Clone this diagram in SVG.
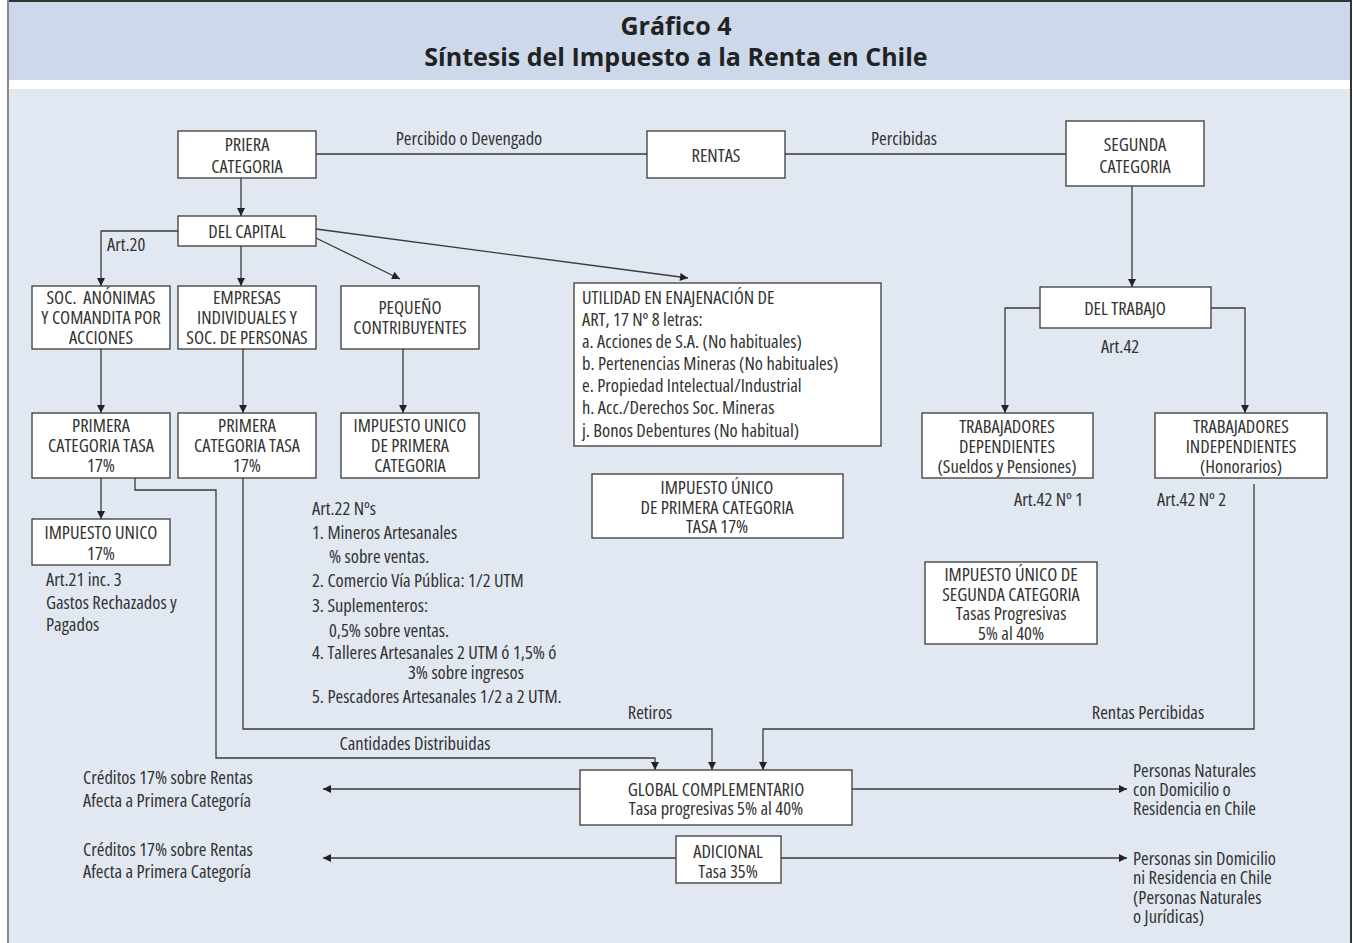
<svg xmlns="http://www.w3.org/2000/svg" width="1353" height="943" viewBox="0 0 1353 943">
<defs>
<style>
.box{fill:#fff;stroke:#3a3a3a;stroke-width:1.3}
.t{font-family:"Open Sans","Noto Sans",sans-serif;font-size:18.5px;fill:#333;font-stretch:condensed}
.c{text-anchor:middle}
.ln{fill:none;stroke:#3a3a3a;stroke-width:1.3}
.ttl{font-family:"Open Sans","Noto Sans",sans-serif;font-weight:bold;font-size:25px;fill:#222;text-anchor:middle}
</style>
<marker id="a" viewBox="0 0 10 10" refX="10" refY="5" markerWidth="9" markerHeight="8" markerUnits="userSpaceOnUse" orient="auto"><path d="M0,0L10,5L0,10z" fill="#222"/></marker>
</defs>
<rect width="1353" height="943" fill="#fff"/>
<rect x="8" y="0" width="1343" height="80" fill="#cdd9ea"/>
<rect x="8" y="89" width="1343" height="854" fill="#e1e8f2"/>
<line x1="8" y1="1" x2="1351" y2="1" stroke="#333" stroke-width="2"/>
<line x1="8" y1="0" x2="8" y2="943" stroke="#8a8a8a" stroke-width="2"/>
<line x1="1351" y1="0" x2="1351" y2="943" stroke="#333" stroke-width="2"/>
<text class="ttl" x="676" y="35">Gráfico 4</text>
<text class="ttl" x="676" y="66">Síntesis del Impuesto a la Renta en Chile</text>

<g id="connectors" class="ln">
<path d="M316,154H647"/>
<path d="M785,154H1066"/>
<path d="M241,178V216" marker-end="url(#a)"/>
<path d="M178,231H101V286" marker-end="url(#a)"/>
<path d="M241,246V286" marker-end="url(#a)"/>
<path d="M316,238L400,279" marker-end="url(#a)"/>
<path d="M316,229L688,278" marker-end="url(#a)"/>
<path d="M101,349V413" marker-end="url(#a)"/>
<path d="M243,349V413" marker-end="url(#a)"/>
<path d="M403,349V413" marker-end="url(#a)"/>
<path d="M101,478V519" marker-end="url(#a)"/>
<path d="M135,478V490H216V758H655V770" marker-end="url(#a)"/>
<path d="M243,478V729H712V770" marker-end="url(#a)"/>
<path d="M1254,484V729H763V770" marker-end="url(#a)"/>
<path d="M1132,186V287" marker-end="url(#a)"/>
<path d="M1040,308H1005V413" marker-end="url(#a)"/>
<path d="M1211,308H1245V413" marker-end="url(#a)"/>
<path d="M580,789H323" marker-end="url(#a)"/>
<path d="M852,789H1127" marker-end="url(#a)"/>
<path d="M676,858H323" marker-end="url(#a)"/>
<path d="M781,858H1127" marker-end="url(#a)"/>
</g>

<g id="n-priera"><rect class="box" x="178" y="131" width="138" height="47"/>
<text class="t c" x="247" y="151">PRIERA</text><text class="t c" x="247" y="173">CATEGORIA</text></g>
<g id="n-rentas"><rect class="box" x="647" y="131" width="138" height="47"/>
<text class="t c" x="716" y="162">RENTAS</text></g>
<g id="n-segunda"><rect class="box" x="1066" y="121" width="138" height="65"/>
<text class="t c" x="1135" y="151">SEGUNDA</text><text class="t c" x="1135" y="173">CATEGORIA</text></g>
<g id="n-capital"><rect class="box" x="178" y="216" width="138" height="30"/>
<text class="t c" x="247" y="238">DEL CAPITAL</text></g>
<g id="n-soc"><rect class="box" x="32" y="286" width="138" height="63"/>
<text class="t c" x="101" y="304">SOC.&#160; ANÓNIMAS</text><text class="t c" x="101" y="324">Y COMANDITA POR</text><text class="t c" x="101" y="344">ACCIONES</text></g>
<g id="n-empresas"><rect class="box" x="178" y="286" width="138" height="63"/>
<text class="t c" x="247" y="304">EMPRESAS</text><text class="t c" x="247" y="324">INDIVIDUALES Y</text><text class="t c" x="247" y="344">SOC. DE PERSONAS</text></g>
<g id="n-pequeno"><rect class="box" x="341" y="286" width="138" height="63"/>
<text class="t c" x="410" y="314">PEQUEÑO</text><text class="t c" x="410" y="334">CONTRIBUYENTES</text></g>
<g id="n-utilidad"><rect class="box" x="574" y="283" width="307" height="163"/>
<text class="t" x="582" y="304">UTILIDAD EN ENAJENACIÓN DE</text>
<text class="t" x="582" y="326">ART, 17 Nº 8 letras:</text>
<text class="t" x="582" y="348">a. Acciones de S.A. (No habituales)</text>
<text class="t" x="582" y="370">b. Pertenencias Mineras (No habituales)</text>
<text class="t" x="582" y="392">e. Propiedad Intelectual/Industrial</text>
<text class="t" x="582" y="414">h. Acc./Derechos Soc. Mineras</text>
<text class="t" x="582" y="437">j. Bonos Debentures (No habitual)</text></g>
<g id="n-primera1"><rect class="box" x="32" y="413" width="138" height="65"/>
<text class="t c" x="101" y="432">PRIMERA</text><text class="t c" x="101" y="452">CATEGORIA TASA</text><text class="t c" x="101" y="472">17%</text></g>
<g id="n-primera2"><rect class="box" x="178" y="413" width="138" height="65"/>
<text class="t c" x="247" y="432">PRIMERA</text><text class="t c" x="247" y="452">CATEGORIA TASA</text><text class="t c" x="247" y="472">17%</text></g>
<g id="n-unico-primera"><rect class="box" x="341" y="413" width="138" height="65"/>
<text class="t c" x="410" y="432">IMPUESTO UNICO</text><text class="t c" x="410" y="452">DE PRIMERA</text><text class="t c" x="410" y="472">CATEGORIA</text></g>
<g id="n-unico-tasa"><rect class="box" x="592" y="474" width="251" height="64"/>
<text class="t c" x="717" y="494">IMPUESTO ÚNICO</text><text class="t c" x="717" y="514">DE PRIMERA CATEGORIA</text><text class="t c" x="717" y="533">TASA 17%</text></g>
<g id="n-trabajo"><rect class="box" x="1040" y="287" width="171" height="41"/>
<text class="t c" x="1125" y="315">DEL TRABAJO</text></g>
<g id="n-dep"><rect class="box" x="922" y="413" width="171" height="65"/>
<text class="t c" x="1007" y="433">TRABAJADORES</text><text class="t c" x="1007" y="453">DEPENDIENTES</text><text class="t c" x="1007" y="473">(Sueldos y Pensiones)</text></g>
<g id="n-indep"><rect class="box" x="1155" y="413" width="172" height="65"/>
<text class="t c" x="1241" y="433">TRABAJADORES</text><text class="t c" x="1241" y="453">INDEPENDIENTES</text><text class="t c" x="1241" y="473">(Honorarios)</text></g>
<g id="n-unico17"><rect class="box" x="32" y="519" width="138" height="46"/>
<text class="t c" x="101" y="539">IMPUESTO UNICO</text><text class="t c" x="101" y="560">17%</text></g>
<g id="n-unico-segunda"><rect class="box" x="925" y="562" width="172" height="82"/>
<text class="t c" x="1011" y="581">IMPUESTO ÚNICO DE</text><text class="t c" x="1011" y="601">SEGUNDA CATEGORIA</text><text class="t c" x="1011" y="620">Tasas Progresivas</text><text class="t c" x="1011" y="640">5% al 40%</text></g>
<g id="n-global"><rect class="box" x="580" y="770" width="272" height="55"/>
<text class="t c" x="716" y="796">GLOBAL COMPLEMENTARIO</text><text class="t c" x="716" y="815">Tasa progresivas 5% al 40%</text></g>
<g id="n-adicional"><rect class="box" x="676" y="836" width="105" height="47"/>
<text class="t c" x="728" y="858">ADICIONAL</text><text class="t c" x="728" y="878">Tasa 35%</text></g>

<g id="labels">
<text class="t c" x="469" y="145">Percibido o Devengado</text>
<text class="t c" x="904" y="145">Percibidas</text>
<text class="t" x="107" y="251">Art.20</text>
<text class="t c" x="1120" y="353">Art.42</text>
<text class="t" x="1014" y="506">Art.42 Nº 1</text>
<text class="t" x="1157" y="506">Art.42 Nº 2</text>
<text class="t" x="46" y="586">Art.21 inc. 3</text>
<text class="t" x="46" y="609">Gastos Rechazados y</text>
<text class="t" x="46" y="631">Pagados</text>
<text class="t" x="312" y="515">Art.22 Nºs</text>
<text class="t" x="312" y="539">1. Mineros Artesanales</text>
<text class="t" x="329" y="563">% sobre ventas.</text>
<text class="t" x="312" y="587">2. Comercio Vía Pública: 1/2 UTM</text>
<text class="t" x="312" y="612">3. Suplementeros:</text>
<text class="t" x="329" y="637">0,5% sobre ventas.</text>
<text class="t" x="312" y="659">4. Talleres Artesanales 2 UTM ó 1,5% ó</text>
<text class="t" x="408" y="679">3% sobre ingresos</text>
<text class="t" x="312" y="703">5. Pescadores Artesanales 1/2 a 2 UTM.</text>
<text class="t c" x="650" y="719">Retiros</text>
<text class="t c" x="1148" y="719">Rentas Percibidas</text>
<text class="t c" x="415" y="750">Cantidades Distribuidas</text>
<text class="t" x="83" y="784">Créditos 17% sobre Rentas</text>
<text class="t" x="83" y="807">Afecta a Primera Categoría</text>
<text class="t" x="83" y="856">Créditos 17% sobre Rentas</text>
<text class="t" x="83" y="878">Afecta a Primera Categoría</text>
<text class="t" x="1133" y="777">Personas Naturales</text>
<text class="t" x="1133" y="796">con Domicilio o</text>
<text class="t" x="1133" y="815">Residencia en Chile</text>
<text class="t" x="1133" y="865">Personas sin Domicilio</text>
<text class="t" x="1133" y="884">ni Residencia en Chile</text>
<text class="t" x="1133" y="904">(Personas Naturales</text>
<text class="t" x="1133" y="923">o Jurídicas)</text>
</g>
</svg>
